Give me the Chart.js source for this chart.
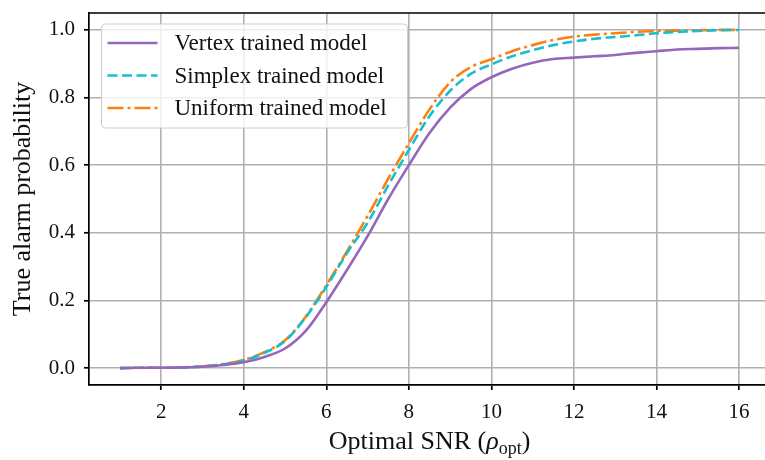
<!DOCTYPE html>
<html>
<head>
<meta charset="utf-8">
<script src="https://cdn.jsdelivr.net/npm/chart.js@4"></script>
<style>
  html, body { margin: 0; padding: 0; background: #fff; overflow: hidden; }
  #wrap { width: 800px; height: 460px; }
</style>
</head>
<body>
<div id="wrap"><canvas id="roc-chart" width="800" height="460"></canvas></div>
<script>
// Optimal SNR values the curves were sampled at
const snr = [1, 1.5, 2, 2.5, 3, 3.5, 4, 4.5, 5, 5.5, 6, 6.5, 7, 7.5, 8, 8.5,
             9, 9.5, 10, 10.5, 11, 11.5, 12, 12.5, 13, 13.5, 14, 14.5, 15, 15.5, 16];

const vertexModel = [0.000, 0.001, 0.001, 0.002, 0.004, 0.009, 0.017, 0.033, 0.058, 0.11,
                     0.195, 0.29, 0.39, 0.50, 0.60, 0.695, 0.77, 0.825, 0.86, 0.885,
                     0.903, 0.914, 0.918, 0.922, 0.926, 0.932, 0.937, 0.942, 0.944, 0.946, 0.947];

const simplexModel = [0.000, 0.001, 0.001, 0.002, 0.005, 0.011, 0.022, 0.045, 0.08, 0.15,
                      0.24, 0.34, 0.43, 0.54, 0.645, 0.745, 0.82, 0.87, 0.898, 0.922,
                      0.94, 0.955, 0.966, 0.974, 0.979, 0.984, 0.99, 0.994, 0.997, 0.999, 1.0];

const uniformModel = [0.000, 0.001, 0.001, 0.002, 0.005, 0.012, 0.024, 0.047, 0.082, 0.152,
                      0.245, 0.345, 0.45, 0.56, 0.665, 0.765, 0.845, 0.89, 0.913, 0.937,
                      0.955, 0.97, 0.98, 0.986, 0.99, 0.994, 0.997, 0.998, 0.999, 1.0, 1.0];

const seriesNames = ['Vertex trained model', 'Simplex trained model', 'Uniform trained model'];
const xTicks = [2, 4, 6, 8, 10, 12, 14, 16];
const yTicks = [0, 0.2, 0.4, 0.6, 0.8, 1.0];

const SERIF = '"Liberation Serif", "DejaVu Serif", serif';

const toPoints = (ys) => snr.map((x, i) => ({ x: x, y: ys[i] }));

// top spine + axis titles + matplotlib-like legend box
const framePlugin = {
    id: 'framePlugin',
    afterDraw(chart) {
        const { ctx, chartArea } = chart;
        ctx.save();
        ctx.strokeStyle = '#000';
        ctx.lineWidth = 1.7;
        ctx.beginPath();
        ctx.moveTo(chartArea.left, chartArea.top);
        ctx.lineTo(chartArea.right, chartArea.top);
        ctx.lineTo(chartArea.right, chartArea.bottom);
        ctx.stroke();

        // legend
        const bx = chartArea.left + 12.5, by = chartArea.top + 11, bw = 306, bh = 104;
        ctx.fillStyle = 'rgba(255,255,255,0.8)';
        ctx.strokeStyle = '#cccccc';
        ctx.lineWidth = 1;
        ctx.beginPath();
        ctx.roundRect(bx, by, bw, bh, 4);
        ctx.fill();
        ctx.stroke();
        ctx.font = '23px ' + SERIF;
        ctx.textBaseline = 'middle';
        ctx.textAlign = 'left';
        chart.data.datasets.forEach((ds, i) => {
            const ry = by + 19 + i * 32.5;
            ctx.strokeStyle = ds.borderColor;
            ctx.lineWidth = ds.borderWidth;
            ctx.setLineDash(ds.borderDash || []);
            ctx.beginPath();
            ctx.moveTo(bx + 6, ry);
            ctx.lineTo(bx + 56, ry);
            ctx.stroke();
            ctx.setLineDash([]);
            ctx.fillStyle = '#111';
            ctx.fillText(ds.label, bx + 73, ry + 1);
        });

        // y title
        ctx.fillStyle = '#111';
        ctx.save();
        ctx.translate(23, (chartArea.top + chartArea.bottom) / 2);
        ctx.rotate(-Math.PI / 2);
        ctx.font = '26px ' + SERIF;
        ctx.textAlign = 'center';
        ctx.textBaseline = 'middle';
        ctx.fillText('True alarm probability', 0, 0);
        ctx.restore();

        // x title with subscript
        const parts = [
            { t: 'Optimal SNR (', f: '26px ' + SERIF, dy: 0 },
            { t: 'ρ', f: 'italic 26px ' + SERIF, dy: 0 },
            { t: 'opt', f: '18px ' + SERIF, dy: 5 },
            { t: ')', f: '26px ' + SERIF, dy: 0 }
        ];
        let total = 0;
        parts.forEach(p => { ctx.font = p.f; p.w = ctx.measureText(p.t).width; total += p.w; });
        let px = (chartArea.left + chartArea.right) / 2 - total / 2;
        ctx.textAlign = 'left';
        ctx.textBaseline = 'alphabetic';
        parts.forEach(p => {
            ctx.font = p.f;
            ctx.fillText(p.t, px, 449 + p.dy);
            px += p.w;
        });
        ctx.restore();
    }
};

const gridOpts = {
    color: '#b0b0b0',
    lineWidth: 1.6,
    tickColor: '#000',
    tickLength: 5,
    tickWidth: 1.7
};

new Chart(document.getElementById('roc-chart'), {
    type: 'line',
    data: {
        datasets: [{
            label: seriesNames[0],
            data: toPoints(vertexModel),
            borderColor: '#9467bd',
            borderWidth: 2.6
        }, {
            label: seriesNames[1],
            data: toPoints(simplexModel),
            borderColor: '#17becf',
            borderWidth: 2.6,
            borderDash: [10, 4.5]
        }, {
            label: seriesNames[2],
            data: toPoints(uniformModel),
            borderColor: '#ff7f0e',
            borderWidth: 2.6,
            borderDash: [16, 4, 3, 4]
        }]
    },
    options: {
        responsive: false,
        devicePixelRatio: 1,
        animation: false,
        layout: { padding: { top: 13, right: 30, left: 0, bottom: 0 } },
        elements: {
            point: { radius: 0 },
            line: { cubicInterpolationMode: 'monotone', fill: false }
        },
        plugins: {
            legend: { display: false },
            tooltip: { enabled: false }
        },
        scales: {
            x: {
                type: 'linear',
                min: 0.25,
                max: 16.75,
                grid: gridOpts,
                border: { color: '#000', width: 1.7 },
                ticks: {
                    color: '#111',
                    padding: 10,
                    font: { family: SERIF, size: 21 },
                    callback: (v) => String(v)
                },
                afterBuildTicks: (scale) => { scale.ticks = xTicks.map(v => ({ value: v })); },
                afterFit: (scale) => {
                    scale.height = 75;
                    scale.paddingLeft = 0;
                    scale.paddingRight = 0;
                }
            },
            y: {
                min: -0.05,
                max: 1.05,
                grid: gridOpts,
                border: { color: '#000', width: 1.7 },
                ticks: {
                    color: '#111',
                    padding: 9,
                    font: { family: SERIF, size: 21 },
                    callback: (v) => Number(v).toFixed(1)
                },
                afterBuildTicks: (scale) => { scale.ticks = yTicks.map(v => ({ value: v })); },
                afterFit: (scale) => {
                    scale.width = 89;
                    scale.paddingTop = 0;
                    scale.paddingBottom = 0;
                }
            }
        }
    },
    plugins: [framePlugin]
});
</script>
</body>
</html>
